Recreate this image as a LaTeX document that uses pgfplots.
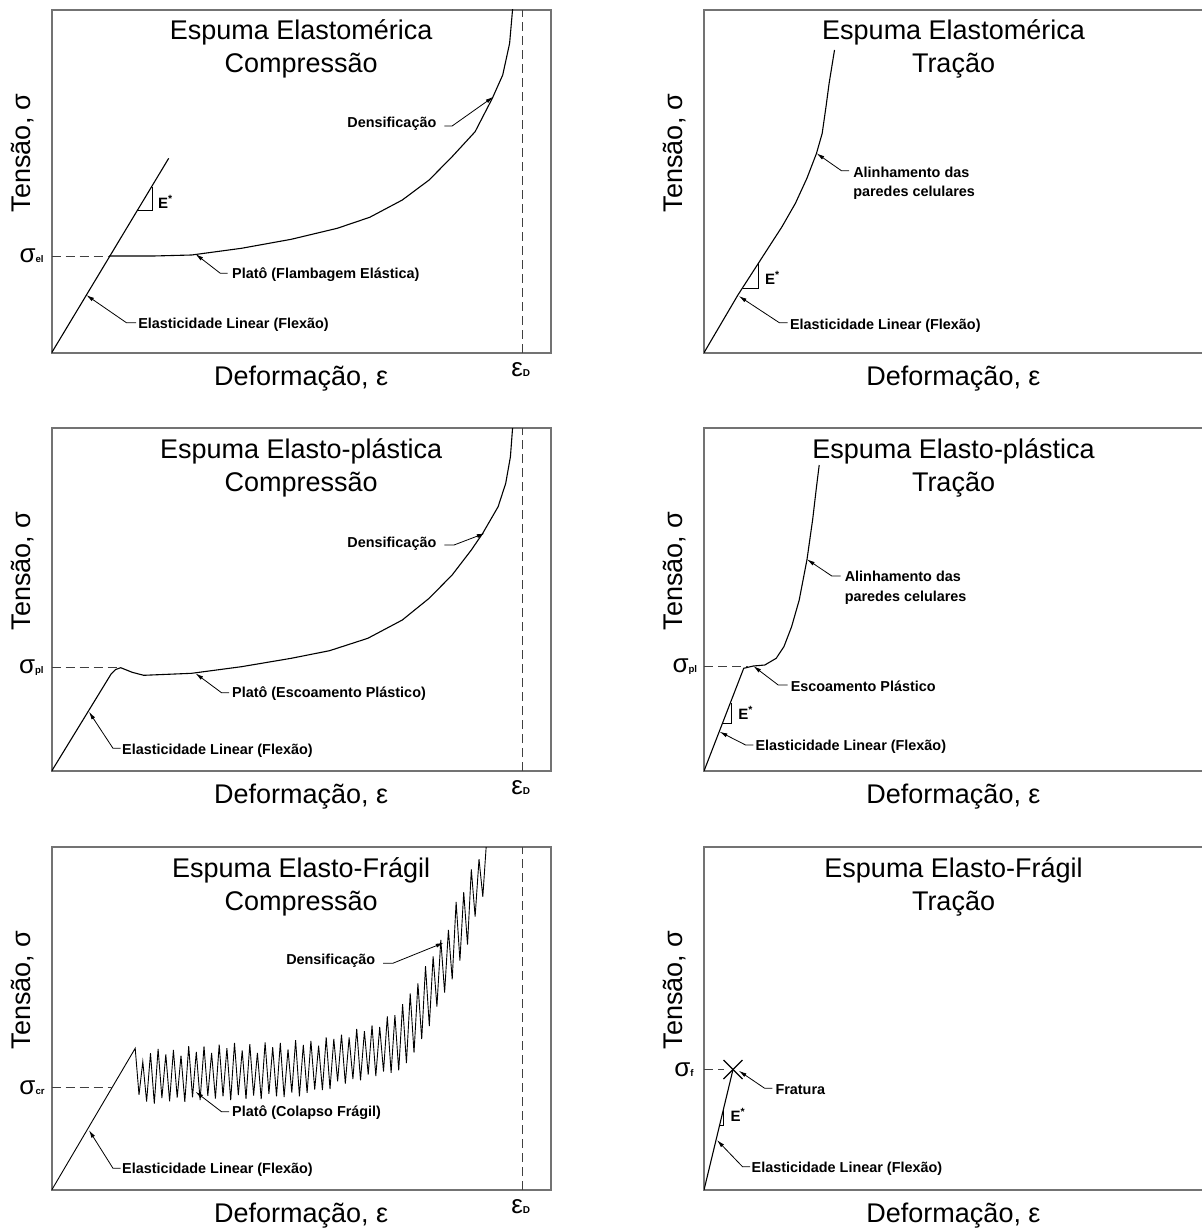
\documentclass[border=0pt]{standalone}
\usepackage{pgfplots}
\pgfplotsset{compat=1.18}
\usepackage{fontspec}
\setmainfont{Liberation Sans}
\usetikzlibrary{arrows.meta}

\pgfplotsset{
 panel/.style={scale only axis, width=249.5pt, height=171.5pt, xmin=0, xmax=499, ymin=0, ymax=343,
   xtick=\empty, ytick=\empty, axis line style={draw=black!55, line width=0.9pt},
   clip mode=individual, anchor=south west},
 crv/.style={black, line width=0.55pt, no marks},
 ldr/.style={black, line width=0.4pt, no marks, -{Latex[length=4pt,width=2pt]}},
 dsh/.style={black!75, line width=0.5pt, no marks, dash pattern=on 4.5pt off 2.5pt},
 tri/.style={black, line width=0.4pt, no marks},
}
\newcommand\ftit{\fontsize{13.5pt}{16pt}\selectfont}
\newcommand\fann{\fontsize{7.2pt}{9.7pt}\selectfont\bfseries}
\newcommand\axlabels{%
 \node[rotate=90, anchor=base] at (axis cs:-21.5,200) {\ftit Tensão, σ};
 \node[anchor=base] at (axis cs:249.5,-32.3) {\ftit Deformação, ε};}
\newcommand\titles[2]{%
 \node[anchor=base] at (axis cs:249.5,313) {\ftit #1};
 \node[anchor=base] at (axis cs:249.5,280) {\ftit #2};}
\newcommand\sig[3]{\node[anchor=east, inner sep=0pt] at (axis cs:#1,#2) {{\fontsize{13pt}{14pt}\selectfont σ}{\fontsize{4.8pt}{5pt}\selectfont\bfseries #3}};}
\newcommand\epsD{\node[anchor=north, inner sep=0pt] at (axis cs:469,-9) {{\fontsize{13pt}{14pt}\selectfont ε}{\fontsize{5pt}{6pt}\selectfont\bfseries D}};}
\newcommand\Estar[2]{\node[anchor=west, inner sep=0pt] at (axis cs:#1,#2) {\fontsize{7.5pt}{9pt}\selectfont\bfseries E\textsuperscript{*}};}
\newcommand\ann[4]{\node[anchor=#1, inner sep=0pt, align=left, font=\fann] at (axis cs:#2,#3) {#4};}

\begin{document}
\begin{tikzpicture}
\useasboundingbox (0,0) rectangle (601pt,-615pt);

% ---------- Panel 1: Elastomerica, Compressao
\begin{axis}[panel, at={(25.85pt,-176.35pt)}]
\addplot[crv] coordinates {(0,0) (117,194.4)};
\addplot[crv] coordinates {(57.5,96.7) (101.6,96.7) (139.9,97.7) (189.7,104.4) (239.5,113.4) (285.5,124.4) (318,135.4) (350.6,152.7) (377.4,172.7) (400.4,196) (423.4,221) (440.6,254.4) (451,277.7) (457.9,309.4) (461,345)};
\addplot[dsh] coordinates {(0,96.7) (57.5,96.7)};
\addplot[dsh] coordinates {(471,0) (471,343)};
\addplot[tri] coordinates {(85.5,142) (100.4,142) (100.4,166)};
\Estar{106}{151}
\addplot[ldr] coordinates {(392.7,226.7) (400.4,226.7) (441.8,256)};
\ann{east}{385}{228.7}{Densificação}
\addplot[ldr] coordinates {(176,79.4) (168.6,79.4) (143.7,98.7)};
\ann{west}{180.1}{77.7}{Platô (Flambagem Elástica)}
\addplot[ldr] coordinates {(84.3,30) (74.7,30) (34.5,57.7)};
\ann{west}{86.2}{27.7}{Elasticidade Linear (Flexão)}
\sig{-7.7}{96.7}{el}
\epsD
\axlabels
\titles{Espuma Elastomérica}{Compressão}
\end{axis}

% ---------- Panel 2: Elastomerica, Tracao
\begin{axis}[panel, at={(352pt,-176.35pt)}]
\addplot[crv] coordinates {(0,0) (33.9,57.7) (60.8,99.4) (78,126) (91.4,149.4) (102.9,174.4) (112.5,199.4) (118.2,219.4) (122,246) (125.1,269.4) (127.8,286) (130.5,302.7)};
\addplot[tri] coordinates {(38.5,64.4) (53.9,64.4) (53.9,89.4)};
\Estar{60.7}{74.4}
\addplot[ldr] coordinates {(83.7,30) (75.3,30) (34.7,56.7)};
\ann{west}{85.7}{26.7}{Elasticidade Linear (Flexão)}
\addplot[ldr] coordinates {(145,182) (137.4,182) (112.5,199.4)};
\ann{west}{148.9}{169.7}{Alinhamento das\\paredes celulares}
\axlabels
\titles{Espuma Elastomérica}{Tração}
\end{axis}

% ---------- Panel 3: Elasto-plastica, Compressao
\begin{axis}[panel, at={(25.85pt,-385.5pt)}]
\addplot[crv] coordinates {(0,0) (59.4,97) (64,101.5) (69,103.3) (80.5,98.7) (92,95.7) (139.9,97.7) (189.7,104.3) (239.5,112.7) (277.8,120.3) (316.1,132.7) (350.6,151) (377.4,172.7) (400.4,196) (419.6,221) (431,237.7) (446.4,264.3) (454,287.7) (458.7,314.3) (461,345)};
\addplot[dsh] coordinates {(0,103.3) (69,103.3)};
\addplot[dsh] coordinates {(471,0) (471,343)};
\addplot[ldr] coordinates {(69,22.7) (61.3,22.7) (37.2,59.3)};
\ann{west}{70.1}{20}{Elasticidade Linear (Flexão)}
\addplot[ldr] coordinates {(177.4,78.3) (169.8,78.3) (143.7,97.7)};
\ann{west}{180.1}{77.7}{Platô (Escoamento Plástico)}
\addplot[ldr] coordinates {(392.7,226) (402.3,226) (433,237.7)};
\ann{east}{385}{227.7}{Densificação}
\sig{-7.7}{103.3}{pl}
\epsD
\axlabels
\titles{Espuma Elasto-plástica}{Compressão}
\end{axis}

% ---------- Panel 4: Elasto-plastica, Tracao
\begin{axis}[panel, at={(352pt,-385.5pt)}]
\addplot[crv] coordinates {(0,0) (39.7,102.7) (49.3,105) (60.8,106) (72.2,112.7) (79.9,124.3) (87.6,144.3) (95.2,171) (102.9,211) (108.6,251) (112.5,284.3) (115.2,306)};
\addplot[dsh] coordinates {(0,104.3) (43.5,104.3)};
\addplot[tri] coordinates {(19.4,47.7) (27,47.7) (27,68)};
\Estar{34}{57.7}
\addplot[ldr] coordinates {(49.3,26) (41.6,26) (15.5,39.3)};
\ann{west}{51.2}{24.3}{Elasticidade Linear (Flexão)}
\addplot[ldr] coordinates {(83.7,86) (74.2,86) (49.3,105)};
\ann{west}{86.4}{84.3}{Escoamento Plástico}
\addplot[ldr] coordinates {(136.6,195) (127.8,195) (102.9,211.7)};
\ann{west}{140.4}{183.3}{Alinhamento das\\paredes celulares}
\sig{-6.5}{104}{pl}
\axlabels
\titles{Espuma Elasto-plástica}{Tração}
\end{axis}

% ---------- Panel 5: Elasto-Fragil, Compressao
\begin{axis}[panel, at={(25.85pt,-595pt)}]
\addplot[crv, line width=0.45pt] coordinates {(0,0) (83.5,141.7) (87.3,95.2) (91.1,128.4) (94.9,88.5) (98.8,136.8) (102.6,86.4) (106.4,141.2) (110.2,92) (114.1,135.6) (117.9,88.7) (121.7,140) (125.5,92.4) (129.3,134.4) (133.1,88.1) (137.0,143.8) (140.8,92.7) (144.6,138.2) (148.4,89.9) (152.3,143.6) (156.1,94.2) (159.9,137) (163.7,91.4) (167.5,145.4) (171.3,93.6) (175.2,141.8) (179.0,89.8) (182.8,147.2) (186.6,95) (190.5,139.5) (194.3,91.2) (198.1,145.9) (201.9,94.5) (205.7,137.2) (209.5,90.9) (213.4,147.5) (217.2,96.2) (221.0,142.8) (224.8,93.6) (228.6,147.2) (232.4,93) (236.3,140.5) (240.1,97.4) (243.9,149.8) (247.7,93.7) (251.6,145.2) (255.4,97.1) (259.2,149.1) (263.0,100.5) (266.9,144.4) (270.7,100) (274.5,152.7) (278.3,101) (282.1,151.1) (285.9,108.8) (289.8,155.4) (293.6,106.4) (297.4,152.5) (301.2,111) (305.0,161.2) (308.8,109.7) (312.7,158.8) (316.5,115.4) (320.3,164.5) (324.1,114) (328.0,163.1) (331.8,118.5) (335.6,173.7) (339.4,117.1) (343.2,174.8) (347.0,119.6) (350.9,185.9) (354.7,126.9) (358.5,196.5) (362.3,137.3) (366.2,206.6) (370.0,150.9) (373.8,223.9) (377.6,163.9) (381.4,233.7) (385.2,183.5) (389.1,250.1) (392.9,197.4) (396.7,260.2) (400.5,210.6) (404.4,288.1) (408.2,229.4) (412.0,297.8) (415.8,245.3) (419.6,320.6) (423.4,273.3) (427.3,330.8) (431.1,293.3) (434.9,350)};
\addplot[dsh] coordinates {(0,102.7) (60.5,102.7)};
\addplot[dsh] coordinates {(471,0) (471,343)};
\addplot[ldr] coordinates {(69,21.7) (61.3,21.7) (37.2,60)};
\ann{west}{70.1}{20}{Elasticidade Linear (Flexão)}
\addplot[ldr] coordinates {(177.4,78.3) (169.8,78.3) (143.7,98.3)};
\ann{west}{180.1}{77.3}{Platô (Colapso Frágil)}
\addplot[ldr] coordinates {(331.4,226.7) (341,226.7) (392,247.3)};
\ann{east}{323.8}{229}{Densificação}
\sig{-6.7}{102.7}{cr}
\epsD
\axlabels
\titles{Espuma Elasto-Frágil}{Compressão}
\end{axis}

% ---------- Panel 6: Elasto-Fragil, Tracao
\begin{axis}[panel, at={(352pt,-595pt)}]
\addplot[crv] coordinates {(0,0) (29,120.5)};
\addplot[crv] coordinates {(19.5,130) (38.5,111)};
\addplot[crv] coordinates {(19.5,111) (38.5,130)};
\addplot[dsh] coordinates {(0,120.5) (20,120.5)};
\addplot[tri] coordinates {(15.9,65) (19.4,65) (19.4,80.5)};
\Estar{26.3}{75}
\addplot[ldr] coordinates {(68.4,101.7) (60.7,101.7) (34.7,119.3)};
\ann{west}{71.1}{100}{Fratura}
\addplot[ldr] coordinates {(46.2,23.3) (38.5,23.3) (12.9,50)};
\ann{west}{47.3}{21.7}{Elasticidade Linear (Flexão)}
\sig{-10}{120.5}{f}
\axlabels
\titles{Espuma Elasto-Frágil}{Tração}
\end{axis}
\end{tikzpicture}
\end{document}
